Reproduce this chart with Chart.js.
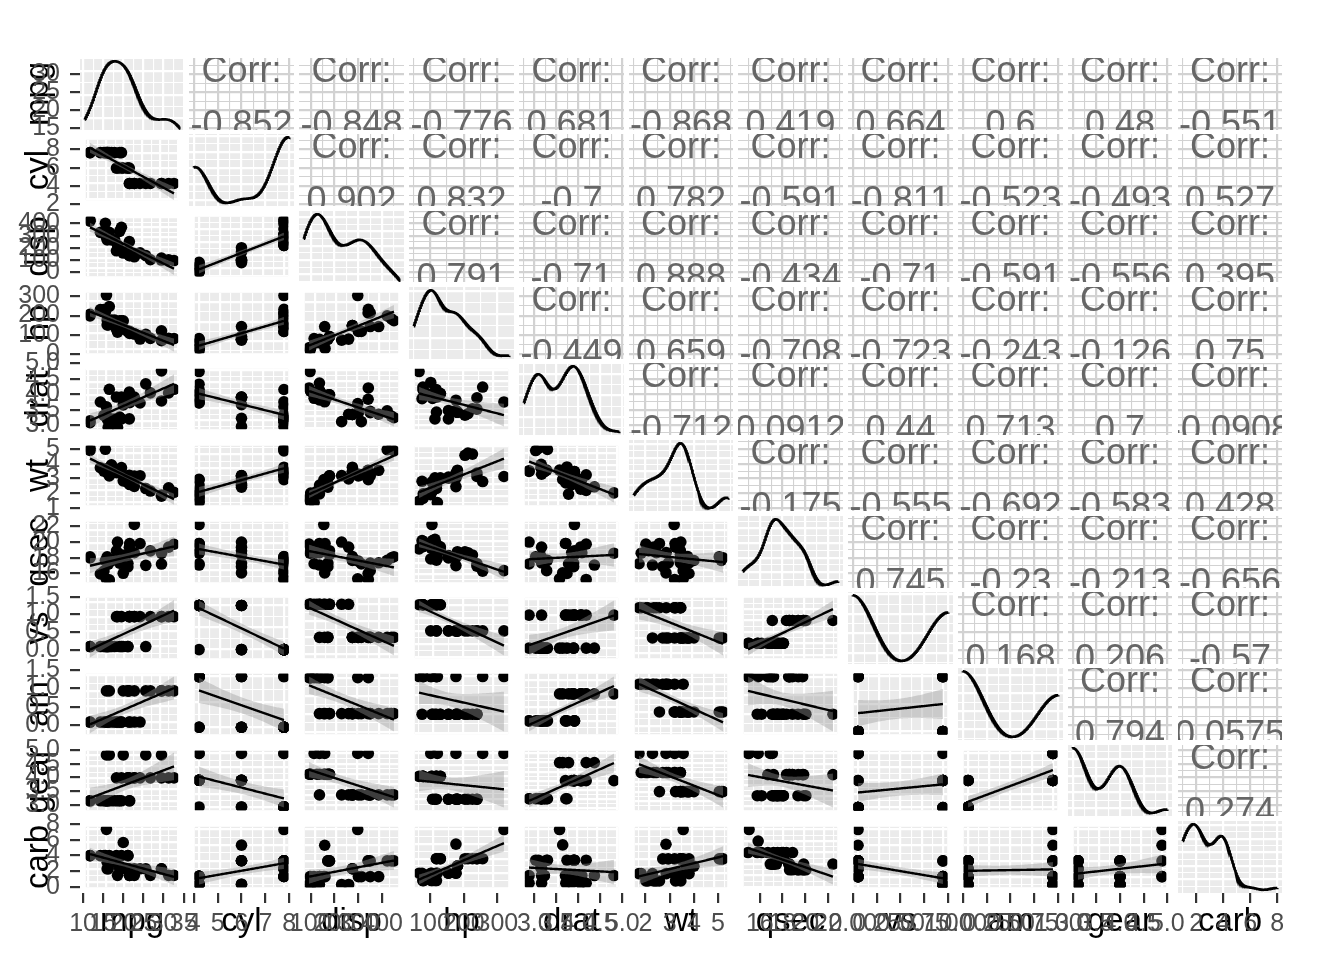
<!DOCTYPE html>
<html>
<head>
<meta charset="utf-8">
<script src="https://cdn.jsdelivr.net/npm/chart.js@4.4.1/dist/chart.umd.min.js"></script>
<style>
html, body { margin:0; padding:0; background:#ffffff; }
#wrap { position:relative; width:1344px; height:960px; overflow:hidden; background:#ffffff; }
#wrap canvas { position:absolute; display:block; }
</style>
</head>
<body>
<div id="wrap"></div>
<script>
// ---------------- data (mtcars, 32 cars) ----------------
const varNames = ['mpg','cyl','disp','hp','drat','wt','qsec','vs','am','gear','carb'];
const mpg  = [21.0,21.0,22.8,21.4,18.7,18.1,14.3,24.4,22.8,19.2,17.8,16.4,17.3,15.2,10.4,10.4,14.7,32.4,30.4,33.9,21.5,15.5,15.2,13.3,19.2,27.3,26.0,30.4,15.8,19.7,15.0,21.4];
const cyl  = [6,6,4,6,8,6,8,4,4,6,6,8,8,8,8,8,8,4,4,4,4,8,8,8,8,4,4,4,8,6,8,4];
const disp = [160,160,108,258,360,225,360,146.7,140.8,167.6,167.6,275.8,275.8,275.8,472,460,440,78.7,75.7,71.1,120.1,318,304,350,400,79,120.3,95.1,351,145,301,121];
const hp   = [110,110,93,110,175,105,245,62,95,123,123,180,180,180,205,215,230,66,52,65,97,150,150,245,175,66,91,113,264,175,335,109];
const drat = [3.90,3.90,3.85,3.08,3.15,2.76,3.21,3.69,3.92,3.92,3.92,3.07,3.07,3.07,2.93,3.00,3.23,4.08,4.93,4.22,3.70,2.76,3.15,3.73,3.08,4.08,4.43,3.77,4.22,3.62,3.54,4.11];
const wt   = [2.620,2.875,2.320,3.215,3.440,3.460,3.570,3.190,3.150,3.440,3.440,4.070,3.730,3.780,5.250,5.424,5.345,2.200,1.615,1.835,2.465,3.520,3.435,3.840,3.845,1.935,2.140,1.513,3.170,2.770,3.570,2.780];
const qsec = [16.46,17.02,18.61,19.44,17.02,20.22,15.84,20.00,22.90,18.30,18.90,17.40,17.60,18.00,17.98,17.82,17.42,19.47,18.52,19.90,20.01,16.87,17.30,15.41,17.05,18.90,16.70,16.90,14.50,15.50,14.60,18.60];
const vs   = [0,0,1,1,0,1,0,1,1,1,1,0,0,0,0,0,0,1,1,1,1,0,0,0,0,1,0,1,0,0,0,1];
const am   = [1,1,1,0,0,0,0,0,0,0,0,0,0,0,0,0,0,1,1,1,0,0,0,0,0,1,1,1,1,1,1,1];
const gear = [4,4,4,3,3,3,3,4,4,4,4,3,3,3,3,3,3,4,4,4,3,3,3,3,3,4,5,5,5,5,5,4];
const carb = [4,4,1,1,2,1,4,2,2,4,4,3,3,3,4,4,4,1,2,1,1,2,2,4,2,1,2,2,4,6,8,2];
const columns = [mpg, cyl, disp, hp, drat, wt, qsec, vs, am, gear, carb];

// bottom-axis tick labels (one list per column)
const xTickLabels = [
  ['10','15','20','25','30','35'], ['4','5','6','7','8'], ['100','200','300','400'], ['100','200','300'],
  ['3.0','3.5','4.0','4.5','5.0'], ['2','3','4','5'], ['16','18','20','22'],
  ['0.00','0.25','0.50','0.75','1.00'], ['0.00','0.25','0.50','0.75','1.00'],
  ['3.0','3.5','4.0','4.5','5.0'], ['2','4','6','8']
];
// left-axis tick labels (one list per row)
const yTickLabels = [
  ['15','20','25','30'], ['2','4','6','8'], ['0','100','200','300','400'], ['0','100','200','300'],
  ['3.0','3.5','4.0','4.5','5.0'], ['1','2','3','4','5'], ['16','18','20','22'],
  ['0.0','0.5','1.0','1.5'], ['0.0','0.5','1.0','1.5'], ['3.0','3.5','4.0','4.5','5.0'], ['0','2','4','6','8']
];
// left-axis limits (row scales of the first column)
const rowAxisMin = [14.4, 1.82, -84, -26, 2.68, 0.78, 14.15, -0.39, -0.39, 2.59, -0.8];
const rowAxisMax = [34.6, 9.67, 504, 349, 5.01, 5.63, 23.3, 1.63, 1.55, 5.18, 8.39];

// correlation texts (upper triangle, row by row)
const corrMpg  = ['-0.852','-0.848','-0.776','0.681','-0.868','0.419','0.664','0.6','0.48','-0.551'];
const corrCyl  = ['0.902','0.832','-0.7','0.782','-0.591','-0.811','-0.523','-0.493','0.527'];
const corrDisp = ['0.791','-0.71','0.888','-0.434','-0.71','-0.591','-0.556','0.395'];
const corrHp   = ['-0.449','0.659','-0.708','-0.723','-0.243','-0.126','0.75'];
const corrDrat = ['-0.712','0.0912','0.44','0.713','0.7','-0.0908'];
const corrWt   = ['-0.175','-0.555','-0.692','-0.583','0.428'];
const corrQsec = ['0.745','-0.23','-0.213','-0.656'];
const corrVs   = ['0.168','0.206','-0.57'];
const corrAm   = ['0.794','0.0575'];
const corrGear = ['0.274'];
const corrRows = [corrMpg, corrCyl, corrDisp, corrHp, corrDrat, corrWt, corrQsec, corrVs, corrAm, corrGear];

// ---------------- layout & style ----------------
const FONT = '"Liberation Sans", Arial, Helvetica, sans-serif';
const L0 = 79.5, CSTEP = 109.8, PW = 104.8, T0 = 58, RSTEP = 76.3, PH = 71.8;
const colL = c => Math.round(L0 + c * CSTEP);
const colR = c => Math.round(L0 + c * CSTEP + PW);
const rowT = r => Math.round(T0 + r * RSTEP);
const rowB = r => Math.round(T0 + r * RSTEP + PH);
const PANEL_BG = '#EBEBEB', GRID_WHITE = '#FFFFFF', UPPER_GRID = '#D2D2D2';
const TICK_SIZE = 25, TITLE_SIZE = 33;

Chart.defaults.animation = false;
Chart.defaults.responsive = false;
Chart.defaults.maintainAspectRatio = false;
Chart.defaults.devicePixelRatio = 1;
Chart.defaults.events = [];
Chart.defaults.plugins.legend.display = false;
Chart.defaults.plugins.tooltip.enabled = false;
Chart.defaults.font.family = FONT;

const wrap = document.getElementById('wrap');
function addCanvas(x, y, w, h) {
  const cv = document.createElement('canvas');
  cv.width = w; cv.height = h;
  cv.style.left = x + 'px'; cv.style.top = y + 'px';
  cv.style.width = w + 'px'; cv.style.height = h + 'px';
  wrap.appendChild(cv);
  return cv;
}

// ---------------- stat helpers (what ggplot's stat_smooth / stat_density do) ----------------
const mean = a => a.reduce((s, v) => s + v, 0) / a.length;
const sdev = a => { const m = mean(a); return Math.sqrt(a.reduce((s, v) => s + (v - m) * (v - m), 0) / (a.length - 1)); };
const extent = a => [Math.min(...a), Math.max(...a)];
const expand = (lo, hi) => { const d = (hi - lo) || 1; return [lo - d * 0.05, hi + d * 0.05]; };
function q7(sorted, p) { const h = (sorted.length - 1) * p; const i = Math.floor(h); const nx = sorted[Math.min(i + 1, sorted.length - 1)]; return sorted[i] + (h - i) * (nx - sorted[i]); }
function bwNrd0(x) {
  const s = sdev(x); const so = [...x].sort((a, b) => a - b);
  let lo = Math.min(s, (q7(so, 0.75) - q7(so, 0.25)) / 1.34);
  if (!(lo > 0)) lo = s || Math.abs(so[0]) || 1;
  return 0.9 * lo * Math.pow(x.length, -0.2);
}
function densityCurve(x) {
  const bw = bwNrd0(x), [lo, hi] = extent(x), n = 512, out = [];
  const k = 1 / (x.length * bw * Math.sqrt(2 * Math.PI));
  for (let i = 0; i < n; i++) {
    const g = lo + (hi - lo) * i / (n - 1);
    let s = 0; for (const v of x) { const z = (g - v) / bw; s += Math.exp(-0.5 * z * z); }
    out.push({ x: g, y: s * k });
  }
  return out;
}
const T975_DF30 = 2.042272;
function lmBand(xv, yv) {
  const n = xv.length, mx = mean(xv), my = mean(yv);
  let sxx = 0, sxy = 0; for (let i = 0; i < n; i++) { sxx += (xv[i] - mx) ** 2; sxy += (xv[i] - mx) * (yv[i] - my); }
  const b = sxy / sxx, a = my - b * mx;
  let sse = 0; for (let i = 0; i < n; i++) sse += (yv[i] - a - b * xv[i]) ** 2;
  const s = Math.sqrt(sse / (n - 2));
  const [lo, hi] = extent(xv), line = [], up = [], dn = [];
  for (let i = 0; i < 80; i++) {
    const x = lo + (hi - lo) * i / 79, f = a + b * x;
    const se = s * Math.sqrt(1 / n + (x - mx) ** 2 / sxx);
    line.push({ x, y: f }); up.push({ x, y: f + T975_DF30 * se }); dn.push({ x, y: f - T975_DF30 * se });
  }
  return { line, up, dn };
}
function niceStep(span, n) {
  const raw = span / n, p = Math.pow(10, Math.floor(Math.log10(raw))), m = raw / p;
  return (m < 1.5 ? 1 : m < 2.25 ? 2 : m < 3.5 ? 2.5 : m < 7.5 ? 5 : 10) * p;
}
function gridTicks(lo, hi, step) {
  const h = step / 2, out = [];
  for (let k = Math.ceil(lo / h - 1e-9); k * h <= hi + 1e-9; k++) out.push({ value: +(k * h).toFixed(10), major: Math.abs(k % 2) === 0 });
  return out;
}

// ---------------- plugins ----------------
const bgPlugin = {
  id: 'panelBg',
  beforeDraw(chart, args, opts) {
    const { ctx, chartArea: a } = chart;
    ctx.save(); ctx.fillStyle = opts.color || '#fff';
    ctx.fillRect(a.left, a.top, a.right - a.left, a.bottom - a.top); ctx.restore();
  }
};
const corrPlugin = {
  id: 'corrText',
  afterDraw(chart, args, opts) {
    const { ctx, chartArea: a } = chart;
    ctx.save();
    ctx.beginPath(); ctx.rect(a.left, a.top, a.right - a.left, a.bottom - a.top); ctx.clip();
    ctx.font = '36px ' + FONT; ctx.fillStyle = '#666666';
    ctx.textAlign = 'center'; ctx.textBaseline = 'alphabetic';
    const cx = (a.left + a.right) / 2;
    ctx.fillText('Corr:', cx, a.top + 24);
    ctx.fillText(opts.value, cx, a.top + 78);
    ctx.restore();
  }
};

// ---------------- scales ----------------
const xRange = columns.map(v => expand(...extent(v)));
const xStep = xTickLabels.map(l => Number(l[1]) - Number(l[0]));
const yStepRow = yTickLabels.map(l => Number(l[1]) - Number(l[0]));

function panelScale(axis, lo, hi, step, color) {
  const ticks = gridTicks(lo, hi, step);
  return {
    type: 'linear', position: axis === 'x' ? 'bottom' : 'left', min: lo, max: hi, bounds: 'data',
    border: { display: false },
    ticks: { display: false },
    grid: { drawTicks: false, color: color, lineWidth: ctx => (ctx.tick && ctx.tick.major) ? 2.2 : 1.1 },
    afterBuildTicks: s => { s.ticks = ticks.map(t => ({ value: t.value, major: t.major })); },
    afterFit: s => { if (axis === 'x') s.height = 0; else s.width = 0; s.paddingLeft = s.paddingRight = s.paddingTop = s.paddingBottom = 0; }
  };
}

function panelChart(r, c, datasets, yr, yStep, bg, gridColor, extra) {
  const x = colL(c), y = rowT(r);
  const cv = addCanvas(x, y, colR(c) - x, rowB(r) - y);
  const plugins = [bgPlugin];
  const pOpts = { panelBg: { color: bg } };
  if (extra) { plugins.push(corrPlugin); pOpts.corrText = { value: extra }; }
  return new Chart(cv, {
    type: 'line',
    data: { datasets },
    options: {
      layout: { padding: 0 },
      scales: { x: panelScale('x', xRange[c][0], xRange[c][1], xStep[c], gridColor), y: panelScale('y', yr[0], yr[1], yStep, gridColor) },
      plugins: pOpts
    },
    plugins
  });
}

// ---------------- panels ----------------
for (let r = 0; r < 11; r++) {
  for (let c = 0; c < 11; c++) {
    if (c > r) {
      // upper: correlation text
      panelChart(r, c, [], [rowAxisMin[r], rowAxisMax[r]], yStepRow[r], '#FFFFFF', UPPER_GRID, corrRows[r][c - r - 1]);
    } else if (c === r) {
      // diagonal: density
      const d = densityCurve(columns[c]);
      const dy = d.map(p => p.y);
      const yr = expand(...extent(dy));
      panelChart(r, c, [{ data: d, borderColor: '#000', borderWidth: 2.6, pointRadius: 0, fill: false, clip: 0, tension: 0 }],
        yr, niceStep(yr[1] - yr[0], 4), PANEL_BG, GRID_WHITE);
    } else {
      // lower: scatter + lm with 95% band
      const xv = columns[c], yv = columns[r];
      const band = lmBand(xv, yv);
      let yr;
      if (c === 0) yr = [rowAxisMin[r], rowAxisMax[r]];
      else {
        const lo = Math.min(...yv, ...band.dn.map(p => p.y)), hi = Math.max(...yv, ...band.up.map(p => p.y));
        yr = expand(lo, hi);
      }
      const pts = xv.map((v, i) => ({ x: v, y: yv[i] }));
      panelChart(r, c, [
        { data: band.line, borderColor: '#000000', borderWidth: 2.4, pointRadius: 0, fill: false, clip: 0, tension: 0 },
        { data: band.up, borderColor: 'rgba(0,0,0,0)', borderWidth: 1, backgroundColor: 'rgba(153,153,153,0.4)', pointRadius: 0, fill: '+1', clip: 0, tension: 0 },
        { data: band.dn, borderColor: 'rgba(0,0,0,0)', borderWidth: 1, pointRadius: 0, fill: false, clip: 0, tension: 0 },
        { data: pts, showLine: false, pointRadius: 5.8, pointBackgroundColor: '#000000', pointBorderWidth: 0, pointBorderColor: 'rgba(0,0,0,0)', clip: 0 }
      ], yr, yStepRow[r], PANEL_BG, GRID_WHITE);
    }
  }
}

// ---------------- left axes (one per row) ----------------
for (let r = 0; r < 11; r++) {
  const M = 18, top = rowT(r), bot = rowB(r);
  const cv = addCanvas(0, top - M, colR(0), bot - top + 2 * M);
  const labels = yTickLabels[r], vals = labels.map(Number);
  new Chart(cv, {
    type: 'line', data: { datasets: [] },
    options: {
      layout: { padding: { top: M, bottom: M, left: 0, right: 0 } },
      scales: {
        x: { type: 'linear', display: false, min: 0, max: 1 },
        y: {
          type: 'linear', position: 'left', min: rowAxisMin[r], max: rowAxisMax[r], bounds: 'data',
          border: { display: false },
          grid: { drawOnChartArea: false, drawTicks: true, tickLength: 10, color: '#333333', lineWidth: 2.2 },
          ticks: { autoSkip: false, padding: 10, color: '#4D4D4D', font: { size: TICK_SIZE, family: FONT }, callback: (v, i) => labels[i] },
          title: { display: true, text: varNames[r], color: '#000000', font: { size: TITLE_SIZE, family: FONT }, padding: { top: 19, bottom: 0 } },
          afterBuildTicks: s => { s.ticks = vals.map(v => ({ value: v })); },
          afterFit: s => { s.width = colL(0); s.paddingTop = s.paddingBottom = 0; }
        }
      }
    }
  });
}

// ---------------- bottom axes (one per column) ----------------
for (let c = 0; c < 11; c++) {
  const MX = 30, left = colL(c), right = colR(c), top = rowT(10);
  const cv = addCanvas(left - MX, top, right - left + 2 * MX, 960 - top);
  const labels = xTickLabels[c], vals = labels.map(Number);
  new Chart(cv, {
    type: 'line', data: { datasets: [] },
    options: {
      layout: { padding: { top: 0, bottom: 0, left: MX, right: MX } },
      scales: {
        y: { type: 'linear', display: false, min: 0, max: 1 },
        x: {
          type: 'linear', position: 'bottom', min: xRange[c][0], max: xRange[c][1], bounds: 'data',
          border: { display: false },
          grid: { drawOnChartArea: false, drawTicks: true, tickLength: 10, color: '#333333', lineWidth: 2.2 },
          ticks: { autoSkip: false, maxRotation: 0, minRotation: 0, padding: 6, color: '#4D4D4D', font: { size: TICK_SIZE, family: FONT }, callback: (v, i) => labels[i] },
          title: { display: true, text: varNames[c], color: '#000000', font: { size: TITLE_SIZE, family: FONT }, padding: { top: 0, bottom: 18 } },
          afterBuildTicks: s => { s.ticks = vals.map(v => ({ value: v })); },
          afterFit: s => { s.height = 960 - rowB(10); s.paddingLeft = s.paddingRight = 0; }
        }
      }
    }
  });
}
</script>
</body>
</html>
